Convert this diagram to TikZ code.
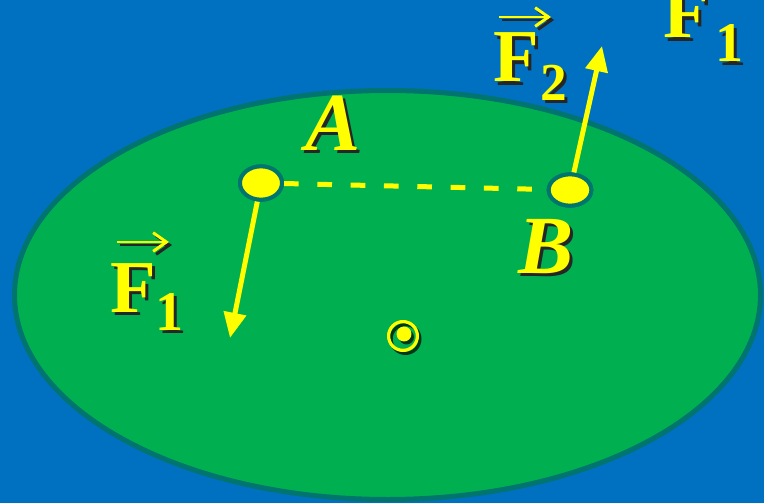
\documentclass[tikz,border=0pt]{standalone}
\usepackage{fontspec}
\setmainfont{Liberation Serif}
\usetikzlibrary{arrows.meta,shapes.geometric}
\definecolor{bg}{HTML}{0070C0}
\definecolor{disk}{HTML}{00B050}
\definecolor{rim}{HTML}{00746E}
\definecolor{yel}{HTML}{FFFF00}
\newcommand{\ShadowLabel}[4]{%
  \node[#1,text=black!85] at ([shift={(3.5,3.5)}]#2) {#4};
  \node[#1] (#3) at (#2) {#4};}
\newcommand{\VecArrow}[2]{%
  \draw[vecarrow,black!85] ([shift={(3,3)}]#1) -- ([shift={(3,3)}]#2);
  \draw[vecarrow] (#1) -- (#2);}
\begin{document}
\begin{tikzpicture}[x=0.75pt,y=-0.75pt,
  dot/.style={ellipse,fill=yel,draw=rim,line width=3pt,inner sep=0pt},
  big/.style={text=yel,inner sep=0pt,anchor=base west,font=\bfseries\fontsize{56}{56}\selectfont},
  bigit/.style={text=yel,inner sep=0pt,anchor=base,font=\bfseries\itshape\fontsize{62}{62}\selectfont},
  sub/.style={text=yel,inner sep=0pt,anchor=base west,font=\bfseries\fontsize{#1}{#1}\selectfont},
  force/.style={yel,line width=3.75pt,-{Triangle[length=19pt,width=16.5pt]}},
  vecarrow/.style={line width=2.2pt,-{Straight Barb[length=10pt,width=14pt,line width=2.2pt]},draw=yel}]
\fill[bg] (0,0) rectangle (764,503);
\useasboundingbox (0,0) rectangle (764,503);
\draw[rim,line width=3.75pt,fill=disk] (387.5,295) ellipse [x radius=373, y radius=204.5];

\node[dot,minimum width=31.5pt,minimum height=25pt] (A) at (261,183) {};
\node[dot,minimum width=32pt,minimum height=23.5pt] (B) at (570,190) {};
\coordinate (f1tip) at (230,338);
\coordinate (f2tip) at (602,46);
\draw[yel,line width=3.75pt,dash pattern=on 11pt off 14pt] (A) -- (B);
\draw[force] (A) -- (f1tip);
\draw[force] (B) -- (f2tip);
\node[dot,minimum width=31.5pt,minimum height=25pt] at (A) {};
\node[dot,minimum width=32pt,minimum height=23.5pt] at (B) {};

% centre symbol
\begin{scope}[shift={(2.5,3)}]
  \draw[black!70!disk,line width=2.4pt] (403,336) circle [radius=10.8pt];
  \fill[black!70!disk] (404,334) circle [radius=5.6pt];
\end{scope}
\draw[yel,line width=2.4pt] (403,336) circle [radius=10.8pt];
\fill[yel] (404,334) circle [radius=5.6pt];

% labels A and B
\ShadowLabel{bigit}{333,150}{labA}{A}
\ShadowLabel{bigit}{546,273}{labB}{B}

% F1 label near A
\ShadowLabel{big}{110,312}{F1l}{F}
\ShadowLabel{sub=42}{155,330}{F1s}{1}
\coordinate (v1a) at (117,242);
\coordinate (v1b) at (169,242);
\VecArrow{v1a}{v1b}

% F2 label
\ShadowLabel{big}{493,82}{F2l}{F}
\ShadowLabel{sub=40}{540,100}{F2s}{2}
\coordinate (v2a) at (499,17);
\coordinate (v2b) at (551,17);
\VecArrow{v2a}{v2b}

% F1 top right (cut off)
\ShadowLabel{big}{663,38}{F1t}{F}
\ShadowLabel{sub=42}{715,62}{F1ts}{1}
\end{tikzpicture}
\end{document}
